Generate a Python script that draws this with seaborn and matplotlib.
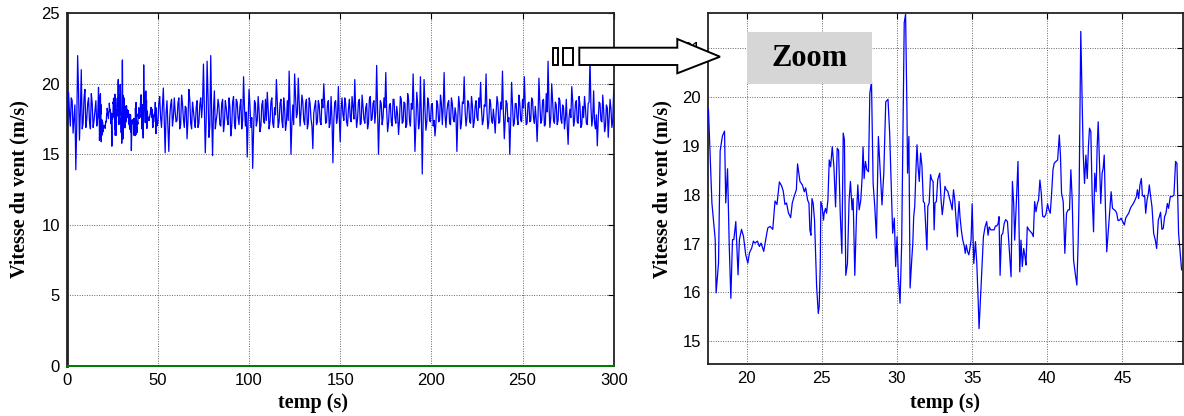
import matplotlib
matplotlib.use("Agg")
import matplotlib.pyplot as plt
from matplotlib.patches import Polygon, Rectangle
import seaborn as sns

# ---------------- data ----------------
# detailed record (zoom window, 17.4 s - 49 s)
temps_zoom = [
    17.45, 17.68, 17.90, 17.96, 18.12, 18.23, 18.38, 18.52, 18.60, 18.72, 18.83, 18.94,
    19.05, 19.14, 19.27, 19.42, 19.51, 19.65, 19.78, 19.93, 20.07, 20.18, 20.33, 20.44,
    20.55, 20.71, 20.84, 20.95, 21.13, 21.26, 21.40, 21.55, 21.73, 21.88, 22.01, 22.17,
    22.32, 22.43, 22.54, 22.65, 22.77, 22.92, 23.03, 23.16, 23.30, 23.38, 23.54, 23.70,
    23.83, 23.92, 24.05, 24.14, 24.20, 24.27, 24.34, 24.42, 24.51, 24.65, 24.76, 24.82,
    24.89, 24.93, 25.02, 25.11, 25.15, 25.24, 25.31, 25.40, 25.49, 25.58, 25.69, 25.80,
    25.91, 26.02, 26.11, 26.22, 26.33, 26.42, 26.50, 26.59, 26.70, 26.81, 26.90, 27.01,
    27.08, 27.19, 27.30, 27.39, 27.48, 27.59, 27.68, 27.74, 27.81, 27.90, 27.99, 28.10,
    28.19, 28.30, 28.41, 28.52, 28.63, 28.76, 28.90, 29.00, 29.12, 29.25, 29.40, 29.51,
    29.62, 29.71, 29.82, 29.91, 30.00, 30.09, 30.20, 30.31, 30.41, 30.48, 30.57, 30.66,
    30.70, 30.79, 30.87, 30.98, 31.05, 31.11, 31.18, 31.27, 31.33, 31.40, 31.48, 31.57,
    31.66, 31.75, 31.83, 31.90, 31.99, 32.05, 32.14, 32.23, 32.31, 32.40, 32.47, 32.53,
    32.62, 32.71, 32.84, 32.93, 33.01, 33.10, 33.19, 33.28, 33.38, 33.49, 33.58, 33.67,
    33.76, 33.84, 33.93, 34.02, 34.06, 34.13, 34.19, 34.28, 34.37, 34.48, 34.54, 34.61,
    34.69, 34.78, 34.87, 34.93, 35.00, 35.11, 35.22, 35.31, 35.40, 35.46, 35.55, 35.66,
    35.75, 35.86, 35.97, 36.06, 36.13, 36.24, 36.35, 36.46, 36.55, 36.64, 36.73, 36.79,
    36.86, 36.95, 37.04, 37.13, 37.23, 37.35, 37.46, 37.59, 37.68, 37.77, 37.83, 37.94,
    38.05, 38.17, 38.25, 38.34, 38.43, 38.52, 38.58, 38.67, 38.78, 38.89, 38.98, 39.07,
    39.16, 39.25, 39.34, 39.42, 39.51, 39.60, 39.69, 39.80, 39.91, 40.02, 40.11, 40.20,
    40.29, 40.38, 40.46, 40.58, 40.69, 40.80, 40.88, 40.95, 41.06, 41.17, 41.28, 41.39,
    41.48, 41.57, 41.66, 41.75, 41.86, 41.97, 42.06, 42.12, 42.19, 42.23, 42.32, 42.39,
    42.48, 42.57, 42.66, 42.74, 42.81, 42.90, 42.99, 43.08, 43.16, 43.25, 43.32, 43.39,
    43.47, 43.56, 43.65, 43.72, 43.79, 43.87, 43.96, 44.05, 44.14, 44.25, 44.34, 44.42,
    44.54, 44.62, 44.71, 44.82, 44.91, 45.02, 45.13, 45.22, 45.33, 45.42, 45.53, 45.62,
    45.73, 45.84, 45.93, 46.00, 46.08, 46.17, 46.26, 46.33, 46.42, 46.48, 46.55, 46.64,
    46.73, 46.79, 46.88, 46.97, 47.08, 47.19, 47.28, 47.39, 47.46, 47.54, 47.63, 47.72,
    47.81, 47.90, 47.99, 48.07, 48.19, 48.30, 48.43, 48.54, 48.63, 48.74, 48.85, 48.94,
]
vitesse_zoom = [
    19.75, 17.83, 17.08, 15.99, 16.60, 18.90, 19.20, 19.30, 17.83, 18.53, 17.00, 15.88,
    17.08, 17.08, 17.45, 16.36, 17.08, 17.29, 17.15, 16.77, 16.60, 16.81, 16.91, 17.05,
    17.01, 17.05, 16.94, 17.01, 16.84, 17.08, 17.32, 17.35, 17.29, 17.87, 17.80, 18.26,
    18.18, 18.07, 17.80, 17.83, 17.63, 17.53, 17.83, 17.97, 18.10, 18.63, 18.27, 18.20,
    18.06, 18.14, 17.89, 17.82, 17.28, 17.17, 17.92, 17.82, 17.48, 16.12, 15.57, 15.71,
    16.53, 17.86, 17.75, 17.48, 17.62, 17.72, 17.62, 17.89, 18.71, 18.57, 18.98, 18.57,
    17.75, 18.95, 18.91, 17.62, 16.80, 19.26, 19.12, 16.35, 16.59, 17.89, 18.27, 17.69,
    17.92, 16.35, 17.55, 18.20, 17.69, 17.89, 18.37, 18.98, 18.33, 18.68, 18.51, 18.47,
    20.07, 20.31, 18.23, 17.75, 17.11, 19.19, 18.37, 17.79, 18.44, 19.90, 19.95, 19.26,
    18.10, 17.21, 17.52, 16.53, 17.14, 16.33, 15.78, 17.00, 19.74, 21.52, 21.69, 19.74,
    18.44, 19.19, 16.09, 16.67, 17.00, 17.55, 17.76, 18.58, 19.02, 18.58, 18.27, 18.85,
    18.58, 17.86, 17.83, 17.42, 16.87, 17.76, 17.83, 18.41, 18.31, 18.27, 17.28, 17.83,
    17.86, 18.31, 18.44, 17.90, 17.59, 17.83, 18.17, 18.10, 18.07, 17.93, 17.83, 17.69,
    18.10, 17.90, 17.49, 17.14, 17.55, 17.86, 17.55, 17.28, 17.08, 16.94, 16.80, 16.97,
    16.84, 16.77, 16.94, 17.08, 17.81, 16.59, 17.04, 16.59, 15.84, 15.26, 15.84, 16.59,
    17.14, 17.34, 17.45, 17.17, 17.34, 17.28, 17.28, 17.28, 17.36, 17.36, 17.41, 17.55,
    16.35, 17.17, 17.21, 17.41, 17.49, 17.45, 16.94, 16.32, 18.27, 17.79, 17.07, 17.82,
    18.68, 16.42, 17.07, 16.53, 16.90, 16.73, 16.56, 17.34, 17.28, 17.24, 17.21, 17.14,
    17.86, 17.65, 17.82, 17.89, 18.30, 18.03, 17.56, 17.54, 17.60, 17.81, 17.69, 17.62,
    18.03, 18.51, 18.64, 18.68, 18.71, 19.22, 18.78, 18.03, 17.86, 16.80, 17.62, 17.69,
    17.69, 18.51, 17.89, 16.66, 16.39, 16.15, 17.07, 18.03, 20.21, 21.34, 19.90, 18.85,
    18.23, 18.81, 18.33, 18.98, 19.36, 19.29, 17.96, 17.24, 18.44, 18.06, 18.98, 19.49,
    18.71, 17.82, 18.44, 18.54, 18.81, 17.75, 16.83, 17.21, 17.62, 18.06, 17.72, 17.70,
    17.67, 17.62, 17.47, 17.48, 17.52, 17.45, 17.38, 17.52, 17.58, 17.62, 17.72, 17.77,
    17.82, 17.89, 17.96, 18.10, 17.92, 18.20, 18.33, 17.99, 17.96, 17.99, 17.62, 17.89,
    18.03, 18.20, 17.96, 17.75, 17.21, 17.07, 16.90, 17.48, 17.55, 17.64, 17.29, 17.31,
    17.55, 17.62, 17.82, 17.72, 17.96, 17.96, 17.99, 18.68, 18.64, 17.21, 16.80, 16.46,
]

# coarse record (whole seconds): 0..17 s and 49..300 s
vitesse_debut = [18.2, 19.4, 17.0, 18.8, 17.5, 13.9, 22.0, 16.0, 21.0, 17.2,
                 19.6, 17.5, 19.0, 16.8, 18.6, 17.4, 18.8, 17.6]
vitesse_fin = [
    18.3, 17.2, 19.1, 16.9, 19.7, 15.1, 18.8, 15.2, 18.5, 17.0, 19.0,            # 49-59
    17.3, 18.6, 16.8, 19.2, 17.5, 18.4, 16.1, 19.6, 17.2, 18.7,                  # 60-69
    17.4, 18.3, 16.9, 18.5, 17.6, 21.4, 15.1, 21.6, 16.2, 22.0,                  # 70-79
    14.9, 19.5, 17.4, 18.9, 17.1, 18.6, 16.6, 18.8, 17.5, 19.0,                  # 80-89
    16.3, 18.7, 17.2, 18.9, 17.6, 18.4, 16.8, 20.5, 17.0, 14.8,                  # 90-99
    19.6, 16.9, 14.0, 18.8, 17.0, 19.1, 16.6, 18.5, 17.3, 18.9,                  # 100-109
    19.4, 16.8, 18.7, 17.2, 18.3, 20.3, 16.9, 18.6, 17.4, 19.0,                  # 110-119
    16.7, 18.8, 20.9, 15.0, 18.5, 20.7, 17.6, 20.4, 17.0, 19.2,                  # 120-129
    17.4, 18.6, 16.8, 19.0, 17.5, 15.4, 18.4, 17.1, 18.8, 17.3,                  # 130-139
    18.9, 20.0, 17.2, 18.5, 16.9, 19.1, 14.4, 18.7, 17.2, 19.8,                  # 140-149
    15.9, 19.0, 17.4, 18.6, 17.0, 18.9, 17.3, 18.4, 20.3, 16.9,                  # 150-159
    18.7, 17.1, 19.2, 17.5, 18.3, 16.8, 18.9, 17.4, 18.6, 17.2,                  # 160-169
    21.3, 15.0, 18.8, 17.1, 19.0, 20.8, 16.6, 18.5, 17.3, 18.9,                  # 170-179
    17.6, 18.4, 16.4, 19.1, 17.2, 18.7, 16.9, 19.3, 17.4, 18.6,                  # 180-189
    20.7, 15.2, 19.4, 16.8, 20.5, 13.6, 20.3, 16.7, 19.0, 17.4,                  # 190-199
    18.5, 17.0, 16.3, 18.8, 17.3, 19.2, 17.1, 20.8, 16.9, 18.6,                  # 200-209
    17.2, 19.0, 17.5, 18.3, 15.2, 19.1, 16.8, 18.7, 20.5, 17.0,                  # 210-219
    18.8, 17.3, 19.1, 16.9, 18.4, 17.6, 19.0, 20.1, 17.1, 18.5,                  # 220-229
    20.7, 16.8, 18.9, 17.4, 18.2, 16.5, 19.1, 17.2, 18.7, 20.9,                  # 230-239
    16.1, 18.8, 17.3, 15.0, 20.1, 17.0, 18.6, 17.6, 19.2, 17.4,                  # 240-249
    18.9, 20.5, 17.1, 18.6, 17.3, 19.0, 17.6, 18.4, 15.9, 20.4,                  # 250-259
    17.2, 18.8, 17.0, 19.3, 21.6, 16.9, 20.0, 17.4, 18.7, 17.1,                  # 260-269
    19.0, 17.5, 18.5, 16.8, 18.9, 15.7, 18.2, 19.8, 17.0, 18.6,                  # 270-279
    17.3, 19.1, 16.9, 18.4, 19.1, 17.2, 18.6, 21.8, 17.0, 19.5,                  # 280-289
    16.8, 15.6, 18.7, 17.4, 19.2, 16.6, 18.5, 16.2, 18.9, 16.9, 19.6,            # 290-300
]
# coarse record (half seconds): 0.5..16.5 s and 49.5..299.5 s
vitesse_debut_demi = [17.1, 18.0, 19.0, 16.5, 18.5, 17.0, 19.5, 18.0, 16.8, 19.0,
                      16.9, 18.6, 17.3, 19.3, 16.9, 18.1, 17.0]
vitesse_fin_demi = [
    17.0, 18.6, 17.6, 18.4, 17.3, 17.9, 16.9, 17.6, 18.9, 17.6,
    18.0, 17.4, 19.0, 17.1, 18.6, 16.9, 18.3, 17.4, 18.9, 16.8,
    18.1, 16.9, 18.8, 17.2, 19.0, 18.6, 18.3, 17.4, 19.2, 17.0,
    17.9, 18.1, 16.8, 17.9, 18.4, 17.0, 18.9, 17.2, 18.3, 17.1,
    18.4, 17.0, 19.1, 16.8, 18.7, 17.1, 18.9, 17.4, 18.3, 18.0,
    17.4, 18.5, 17.6, 16.7, 18.6, 17.4, 18.1, 17.0, 18.8, 17.2,
    17.4, 18.2, 17.3, 19.0, 16.9, 17.8, 18.7, 17.3, 18.9, 16.9,
    18.3, 17.2, 17.4, 18.3, 17.2, 17.1, 19.1, 17.9, 18.6, 18.0,
    18.7, 17.1, 18.9, 17.2, 18.6, 17.0, 17.9, 18.8, 17.3, 18.5,
    17.1, 18.3, 18.6, 17.3, 18.8, 17.2, 17.5, 17.4, 18.8, 17.6,
    17.6, 18.2, 17.8, 19.0, 17.3, 18.2, 17.6, 19.1, 17.5, 18.1,
    17.5, 18.9, 17.2, 18.4, 17.2, 18.6, 17.2, 19.1, 17.5, 18.8,
    18.0, 18.1, 17.4, 18.6, 17.6, 18.3, 18.1, 17.2, 18.6, 17.0,
    18.9, 17.2, 17.8, 17.4, 18.9, 17.3, 18.6, 17.1, 18.9, 17.0,
    18.2, 18.0, 17.1, 18.5, 17.3, 17.8, 17.4, 18.2, 17.3, 18.6,
    17.3, 18.6, 17.4, 17.2, 18.5, 17.4, 18.6, 18.4, 17.8, 18.0,
    18.8, 17.1, 18.6, 17.3, 17.8, 17.6, 18.4, 17.2, 18.6, 18.1,
    17.6, 18.6, 17.2, 18.5, 17.3, 18.8, 17.4, 18.3, 18.2, 17.4,
    18.4, 18.0, 17.3, 18.6, 17.2, 17.5, 17.9, 18.6, 17.3, 18.2,
    18.0, 17.4, 18.6, 17.6, 17.3, 18.5, 17.2, 18.6, 17.1, 18.6,
    17.3, 18.3, 18.4, 17.2, 18.7, 17.4, 18.8, 17.2, 17.5, 17.7,
    18.6, 17.4, 18.9, 17.1, 18.0, 18.5, 17.6, 18.8, 17.2, 18.5,
    17.4, 18.8, 17.2, 18.3, 17.5, 17.1, 17.6, 17.6, 18.8, 17.4,
    18.8, 17.2, 18.5, 17.1, 17.6, 18.3, 17.1, 18.7, 18.4, 17.6,
    17.2, 17.8, 17.4, 18.6, 17.3, 18.1, 17.0, 18.3, 17.5, 18.2, 17.4,
]
temps_debut = list(range(0, 18))
temps_fin = list(range(49, 301))
temps_debut_demi = [k + 0.5 for k in range(0, 17)]
temps_fin_demi = [k + 0.5 for k in range(49, 300)]

paires = sorted(zip(temps_debut + temps_debut_demi + temps_zoom + temps_fin + temps_fin_demi,
                    vitesse_debut + vitesse_debut_demi + vitesse_zoom + vitesse_fin + vitesse_fin_demi))
temps_total = [p[0] for p in paires]
vitesse_total = [p[1] for p in paires]

temps_ref = [0, 300]
valeur_ref = [0, 0]

# ---------------- style ----------------
sns.set_style("white")
plt.rcParams["font.family"] = ["Liberation Sans", "DejaVu Sans"]
for key in ("text.color", "axes.labelcolor", "xtick.color", "ytick.color"):
    plt.rcParams[key] = "black"
serif = ["Liberation Serif", "DejaVu Serif"]

W, H = 1184, 416
fig = plt.figure(figsize=(W / 100, H / 100), dpi=100)


def px(x0, y0, x1, y1):
    return [x0 / W, 1 - y1 / H, (x1 - x0) / W, (y1 - y0) / H]


ax1 = fig.add_axes(px(66.7, 13.3, 613.7, 365.7))
ax2 = fig.add_axes(px(707.7, 13.3, 1182.5, 364.3))

blue = "#0000ff"
sns.lineplot(x=temps_total, y=vitesse_total, ax=ax1, color=blue, linewidth=0.9,
             estimator=None, sort=False, zorder=3)
sns.lineplot(x=temps_ref, y=valeur_ref, ax=ax1, color="#007f00", linewidth=1.4,
             estimator=None, sort=False, zorder=4, clip_on=False)
sns.lineplot(x=temps_zoom, y=vitesse_zoom, ax=ax2, color=blue, linewidth=0.9,
             estimator=None, sort=False, zorder=3)

ax1.set_xlim(0, 300)
ax1.set_ylim(0, 25)
ax1.set_xticks([0, 50, 100, 150, 200, 250, 300])
ax1.set_yticks([0, 5, 10, 15, 20, 25])

ax2.set_xlim(17.4, 49)
ax2.set_ylim(14.53, 21.71)
ax2.set_xticks([20, 25, 30, 35, 40, 45])
ax2.set_yticks([15, 16, 17, 18, 19, 20, 21])

for ax in (ax1, ax2):
    ax.grid(True, color="#666666", linestyle=(0, (1, 1.5)), linewidth=0.7)
    ax.set_axisbelow(True)
    ax.tick_params(direction="in", top=True, right=True, length=4, width=0.8,
                   labelsize=12, pad=5, colors="black")
    for s in ax.spines.values():
        s.set_color("#222222")
        s.set_linewidth(1.3)
    ax.set_xlabel("temp (s)", fontsize=14.5, fontweight="bold", family=serif, va="center")
    ax.set_ylabel("Vitesse du vent (m/s)", fontsize=14.5, fontweight="bold", family=serif,
                  va="center")

ax1.spines["left"].set_linewidth(2.0)
ax1.xaxis.set_label_coords((313 - 66.7) / 547, (365.7 - 403) / 352.4)
ax1.yaxis.set_label_coords((19 - 66.7) / 547, 0.5)
ax2.xaxis.set_label_coords((945 - 707.7) / 475, (364.3 - 403) / 351)
ax2.yaxis.set_label_coords((662 - 707.7) / 475, 0.5)


def fpt(x, y):
    return (x / W, 1 - y / H)


# small rectangles and arrow
for (x0, x1) in [(553.3, 558.3), (563.3, 573.3)]:
    fig.patches.append(Rectangle(fpt(x0, 65), (x1 - x0) / W, 17.3 / H,
                                 transform=fig.transFigure, facecolor="white",
                                 edgecolor="black", linewidth=1.4, zorder=10))
arrow_pts = [fpt(579.3, 47.7), fpt(677.3, 47.7), fpt(677.3, 39), fpt(720, 56.7),
             fpt(677.3, 73.3), fpt(677.3, 65), fpt(579.3, 65)]
fig.patches.append(Polygon(arrow_pts, closed=True, transform=fig.transFigure,
                           facecolor="white", edgecolor="black", linewidth=1.4, zorder=10))

# Zoom box
fig.patches.append(Rectangle(fpt(747.3, 84.3), (871.7 - 747.3) / W, 52 / H,
                             transform=fig.transFigure, facecolor="#d6d6d6",
                             edgecolor="none", zorder=10))
fig.text(809.5 / W, 1 - 59 / H, "Zoom", fontsize=22, fontweight="bold", family=serif,
         ha="center", va="center", zorder=11, color="black")

fig.savefig("out.png", dpi=100)
